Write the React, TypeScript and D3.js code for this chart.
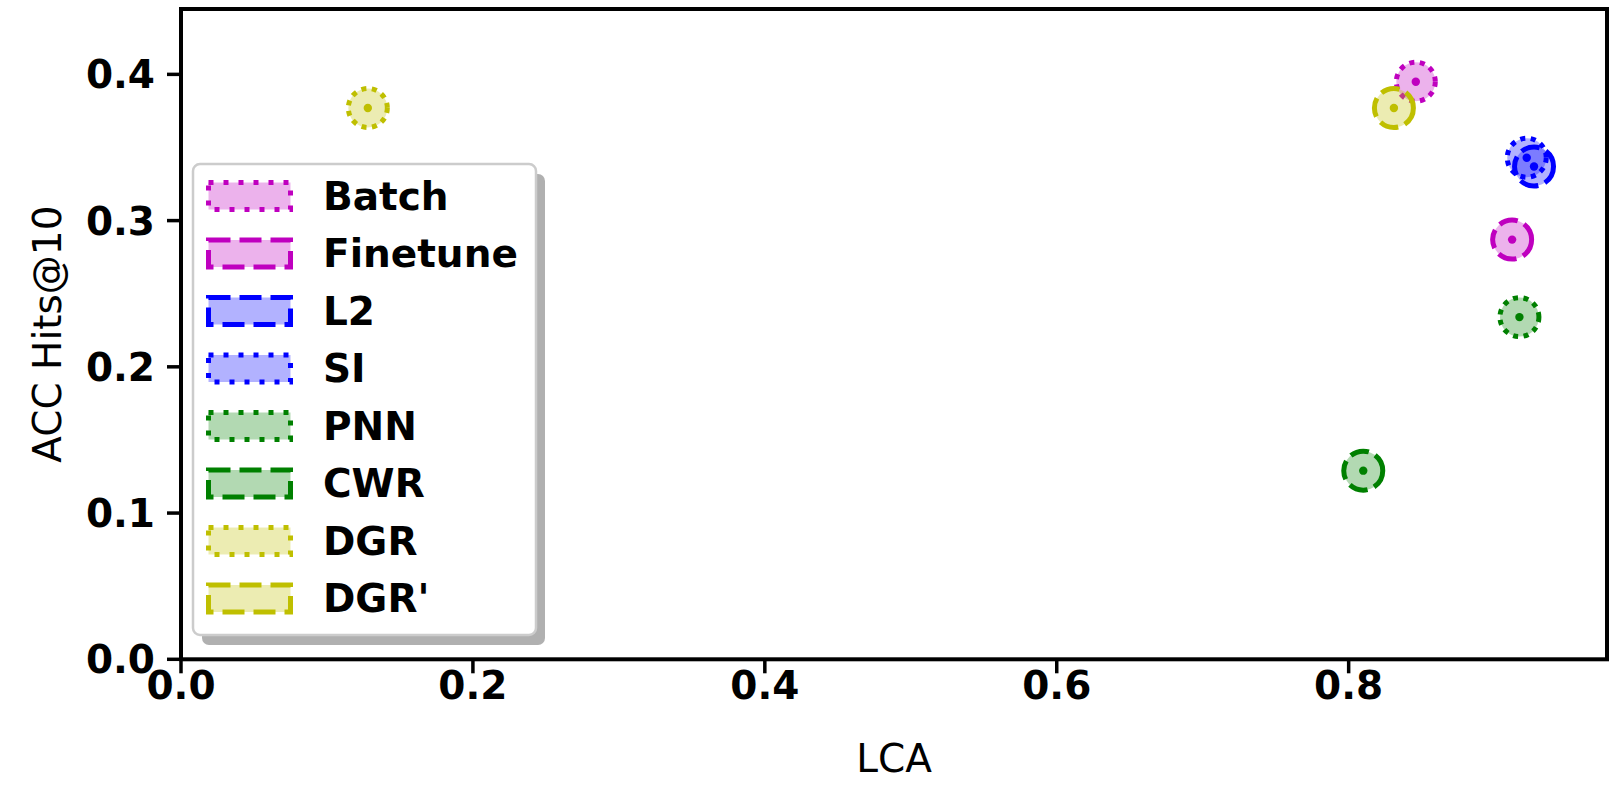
import React from "react";
import * as d3 from "d3";

// methods, in legend order
const methods = ["Batch", "Finetune", "L2", "SI", "PNN", "CWR", "DGR", "DGR'"];
const lcaValues = [0.846, 0.912, 0.927, 0.922, 0.917, 0.81, 0.128, 0.831];
const accValues = [0.395, 0.287, 0.337, 0.343, 0.234, 0.129, 0.377, 0.377];
const colors = ["#bf00bf", "#bf00bf", "#0000ff", "#0000ff", "#008000", "#008000", "#bfbf00", "#bfbf00"];
const styles = ["dotted", "dashed", "dashed", "dotted", "dotted", "dashed", "dotted", "dashed"];
const xTicks = [0, 0.2, 0.4, 0.6, 0.8];
const yTicks = [0, 0.1, 0.2, 0.3, 0.4];

const W = 1615;
const H = 809;
const left = 181, right = 1607, top = 9, bottom = 659.3;
const FONT = "'DejaVu Sans', sans-serif";

export default function App() {
  const x = d3.scaleLinear().domain([0, 0.977]).range([left, right]);
  const y = d3.scaleLinear().domain([0, 0.4447]).range([bottom, top]);

  const dashMarker = (s: string) => (s === "dotted" ? "5 5.6" : "19 7");
  const dashPatch = (s: string) => (s === "dotted" ? "5 10" : "22 9");

  const legX = 193, legY = 164, legW = 343, legH = 471;
  const rowY0 = 196, rowStep = 57.5;

  return (
    <svg width={W} height={H} style={{ position: "absolute", left: 0, top: 0, background: "#fff" }}>
      {/* points */}
      {methods.map((m, i) => {
        const cx = x(lcaValues[i]);
        const cy = y(accValues[i]);
        return (
          <g key={m}>
            <circle cx={cx} cy={cy} r={19.5} fill={colors[i]} fillOpacity={0.3}
              stroke={colors[i]} strokeWidth={5} strokeDasharray={dashMarker(styles[i])} />
            <circle cx={cx} cy={cy} r={4.2} fill={colors[i]} />
          </g>
        );
      })}

      {/* frame */}
      <rect x={left} y={top} width={right - left} height={bottom - top} fill="none" stroke="#000" strokeWidth={4} />

      {/* x ticks */}
      {xTicks.map((t) => (
        <g key={"x" + t}>
          <line x1={x(t)} x2={x(t)} y1={bottom} y2={bottom + 14} stroke="#000" strokeWidth={3.5} />
          <text x={x(t)} y={699} textAnchor="middle" fontFamily={FONT} fontWeight="bold" fontSize={39}>
            {t.toFixed(1)}
          </text>
        </g>
      ))}
      {/* y ticks */}
      {yTicks.map((t) => (
        <g key={"y" + t}>
          <line x1={left - 14} x2={left} y1={y(t)} y2={y(t)} stroke="#000" strokeWidth={3.5} />
          <text x={155} y={y(t)} dy="0.36em" textAnchor="end" fontFamily={FONT} fontWeight="bold" fontSize={39}>
            {t.toFixed(1)}
          </text>
        </g>
      ))}

      {/* axis labels */}
      <text x={(left + right) / 2} y={772} textAnchor="middle" fontFamily={FONT} fontSize={39}>LCA</text>
      <text transform={`translate(61,${(top + bottom) / 2}) rotate(-90)`} textAnchor="middle" fontFamily={FONT} fontSize={39}>
        ACC Hits@10
      </text>

      {/* legend */}
      <rect x={legX + 9} y={legY + 10} width={legW} height={legH} rx={7} fill="#b0b0b0" />
      <rect x={legX} y={legY} width={legW} height={legH} rx={7} fill="#fff" stroke="#cccccc" strokeWidth={2.5} />
      {methods.map((m, i) => {
        const ry = rowY0 + i * rowStep;
        return (
          <g key={"l" + m}>
            <rect x={208.5} y={ry - 13.5} width={82} height={27} fill={colors[i]} fillOpacity={0.3}
              stroke={colors[i]} strokeWidth={5} strokeDasharray={dashPatch(styles[i])} />
            <text x={323} y={ry + 13.5} fontFamily={FONT} fontWeight="bold" fontSize={39}>{m}</text>
          </g>
        );
      })}
    </svg>
  );
}
